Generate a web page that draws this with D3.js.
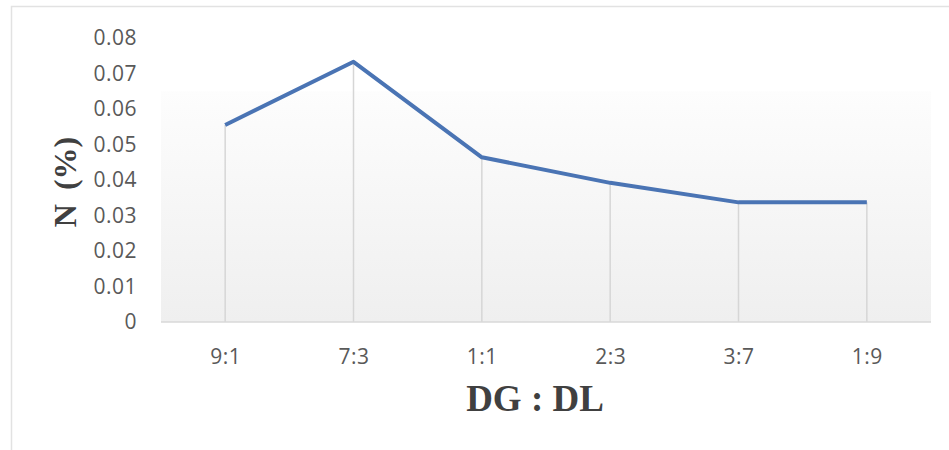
<!DOCTYPE html>
<html>
<head>
<meta charset="utf-8">
<script src="https://cdn.jsdelivr.net/npm/d3@7"></script>
<style>
  body { margin: 0; background: #fff; }
  .tick-text { font-family: "Open Sans", sans-serif; font-size: 21px; letter-spacing: 0.5px; fill: #595959; }
  .title { font-family: "Liberation Serif", "DejaVu Serif", serif; font-weight: bold; fill: #404040; }
</style>
</head>
<body>
<div class="chart"></div>
<script>
var w = 949;
var h = 450;

// data
var ratios = ["9:1", "7:3", "1:1", "2:3", "3:7", "1:9"];
var nValues = [0.0555, 0.0733, 0.0464, 0.0392, 0.0337, 0.0337];
var yTicks = [0, 0.01, 0.02, 0.03, 0.04, 0.05, 0.06, 0.07, 0.08];

var plotLeft = 161, plotRight = 931, plotTop = 38, plotBottom = 322;

var svg = d3.select(".chart")
  .append("svg")
  .attr("width", w)
  .attr("height", h);

// chart frame
svg.append("rect")
  .attr("x", 11.5)
  .attr("y", 6.5)
  .attr("width", w + 20)
  .attr("height", h + 20)
  .attr("fill", "#fff")
  .attr("stroke", "#e2e2e2")
  .attr("stroke-width", 1.5);

var xScale = d3.scalePoint()
  .domain(ratios)
  .range([plotLeft, plotRight])
  .padding(0.5);

var yScale = d3.scaleLinear()
  .domain([0, 0.08])
  .range([plotBottom, plotTop]);

// plot area fill
var grad = svg.append("defs").append("linearGradient")
  .attr("id", "plotfill")
  .attr("x1", 0).attr("y1", 0).attr("x2", 0).attr("y2", 1);
grad.append("stop").attr("offset", "0%").attr("stop-color", "#fdfdfd");
grad.append("stop").attr("offset", "100%").attr("stop-color", "#efefef");

svg.append("rect")
  .attr("x", plotLeft)
  .attr("y", yScale(0.065))
  .attr("width", plotRight - plotLeft)
  .attr("height", plotBottom - yScale(0.065))
  .attr("fill", "url(#plotfill)");

// drop lines
svg.selectAll(".drop")
  .data(ratios)
  .enter()
  .append("line")
  .attr("class", "drop")
  .attr("x1", function(d) { return xScale(d); })
  .attr("x2", function(d) { return xScale(d); })
  .attr("y1", function(d, i) { return yScale(nValues[i]); })
  .attr("y2", yScale(0))
  .attr("stroke", "#d6d6d6")
  .attr("stroke-width", 1.5);

// x axis
var xAxis = d3.axisBottom(xScale)
  .tickSize(0)
  .tickPadding(27);

var gx = svg.append("g")
  .attr("transform", "translate(0," + plotBottom + ")")
  .call(xAxis);
gx.select(".domain")
  .attr("stroke", "#d9d9d9")
  .attr("stroke-width", 1.5)
  .attr("d", "M" + plotLeft + ",0H" + plotRight);
gx.selectAll("text")
  .attr("class", "tick-text");

// y axis
var yAxis = d3.axisLeft(yScale)
  .tickValues(yTicks)
  .tickSize(0)
  .tickPadding(24)
  .tickFormat(function(d) { return d === 0 ? "0" : d3.format(".2f")(d); });

var gy = svg.append("g")
  .attr("transform", "translate(" + plotLeft + ",0)")
  .call(yAxis);
gy.select(".domain").remove();
gy.selectAll("text")
  .attr("class", "tick-text");

// line
var line = d3.line()
  .x(function(d, i) { return xScale(ratios[i]); })
  .y(function(d) { return yScale(d); });

svg.append("path")
  .datum(nValues)
  .attr("d", line)
  .attr("fill", "none")
  .attr("stroke", "#4a74b4")
  .attr("stroke-width", 4)
  .attr("stroke-linejoin", "round");

// titles
svg.append("text")
  .attr("class", "title")
  .attr("x", 535)
  .attr("y", 411)
  .attr("text-anchor", "middle")
  .style("font-size", "37px")
  .text("DG : DL");

var yt = svg.append("text")
  .attr("class", "title")
  .attr("transform", "translate(76,182) rotate(-90)")
  .attr("text-anchor", "middle")
  .style("font-size", "32px");
yt.append("tspan").text("N");
yt.append("tspan").attr("dx", 14).text("(%)");
</script>
</body>
</html>
